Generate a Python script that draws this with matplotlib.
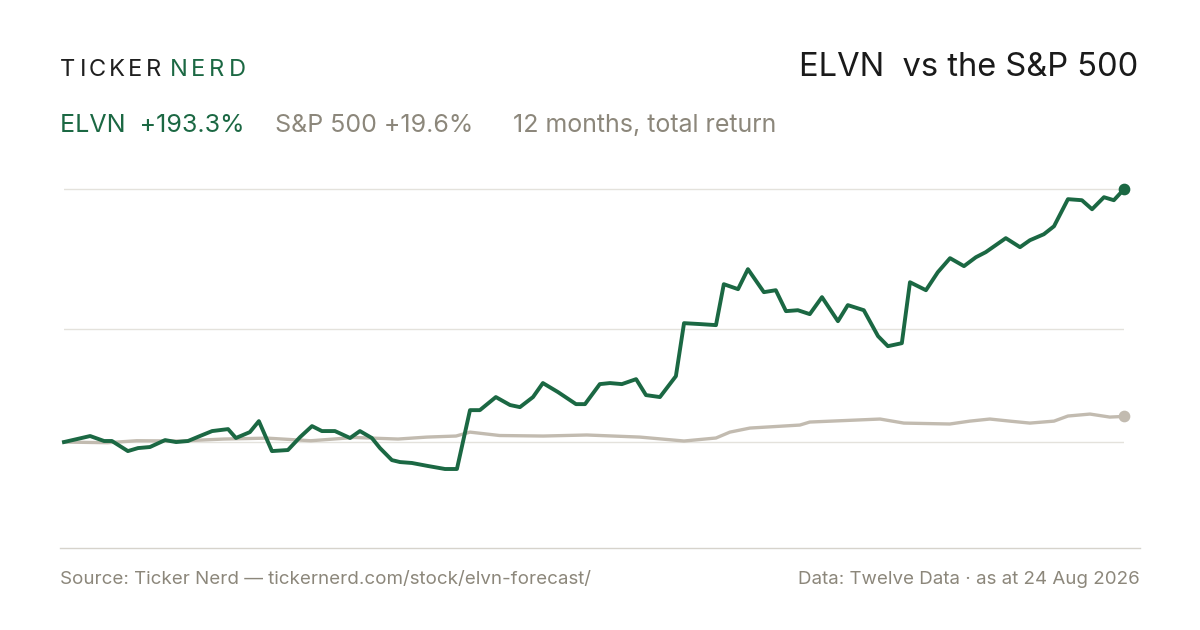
import matplotlib
matplotlib.use("Agg")
import matplotlib.pyplot as plt

plt.rcParams["font.family"] = ["Inter", "DejaVu Sans"]

GREEN = "#1b6843"
GREY = "#c2bbb0"
TEXT_GREY = "#8c877b"

# days since start, total return in %
elvn_days = [0, 9.0, 13.8, 16.5, 22.0, 25.5, 29.6, 34.8, 38.6, 42.7, 46.8, 51.0, 56.5, 59.2, 64.0,
             67.1, 71.6, 77.1, 81.3, 85.4, 88.8, 93.3, 98.5, 101.9, 106.0, 108.8, 112.9, 115.7,
             119.8, 125.3, 131.2, 135.3, 139.8, 143.2, 148.7, 153.6, 157.0, 161.5, 164.9, 170.1,
             176.3, 179.4, 184.5, 188.0, 192.1, 197.0, 200.4, 205.2, 210.7, 213.5, 219.0, 224.5,
             227.2, 232.1, 235.5, 241.0, 245.1, 248.6, 252.7, 256.8, 261.0, 266.5, 269.9, 275.4,
             280.3, 283.7, 288.5, 291.3, 296.8, 300.9, 305.1, 309.9, 314.0, 317.4, 324.3, 329.2,
             332.6, 337.4, 340.9, 345.7, 350.5, 354.0, 358.1, 361.5, 365.0]
elvn_ret = [0, 4.6, 0.8, 0.8, -6.9, -4.6, -3.8, 1.5, 0, 0.8, 4.6, 8.4, 9.9, 3.1, 7.6,
            16.0, -6.9, -6.1, 3.8, 12.2, 8.4, 8.4, 3.1, 8.4, 3.1, -4.6, -13.8, -15.3,
            -16.0, -18.3, -20.6, -20.6, 24.4, 24.4, 34.4, 28.3, 26.7, 34.4, 45.1, 38.2,
            29.0, 29.0, 44.3, 45.1, 44.3, 48.1, 35.9, 34.4, 50.4, 90.9, 90.2, 89.4,
            120.7, 116.9, 132.2, 114.6, 116.1, 100.1, 100.8, 97.8, 110.8, 92.4, 104.7, 100.8,
            81.0, 73.3, 75.6, 122.2, 116.1, 129.9, 140.6, 134.5, 141.3, 145.2, 155.9, 149.0,
            154.3, 158.9, 165.0, 185.7, 184.9, 178.0, 187.2, 184.9, 193.3]

spx_days = [0, 15, 25, 40, 55, 70, 85, 100, 115, 125, 135, 139.8, 150, 165, 180, 198.3, 213.5,
            224.5, 229.3, 236.2, 253.4, 256.8, 281.0, 289.2, 305.0, 311.9, 318.8, 325.7, 332.6,
            340.9, 345.7, 353.3, 360.1, 365.0]
spx_ret = [0, -0.5, 1.0, 0.8, 2.3, 3.0, 1.0, 3.5, 2.3, 3.8, 4.6, 7.6, 5.0, 4.6, 5.4, 3.8, 0.8,
           3.1, 7.6, 10.7, 13.0, 15.3, 17.6, 14.5, 13.8, 16.0, 17.6, 16.0, 14.5,
           16.0, 19.9, 21.4, 19.1, 19.6]

grid_vals = [0, 86.3, 193.3]

fig = plt.figure(figsize=(12, 6.3), dpi=100)
fig.patch.set_facecolor("white")
ax = fig.add_axes([64 / 1200, 82 / 630, 1060 / 1200, 378 / 630])
ax.set_xlim(0, 365)
ax.set_ylim(-81, 208)
for g in grid_vals:
    ax.axhline(g, color="#e4e2dc", lw=1, zorder=0)
ax.plot(spx_days, spx_ret, color=GREY, lw=2.4, solid_joinstyle="round", zorder=2, clip_on=False)
ax.plot(elvn_days, elvn_ret, color=GREEN, lw=2.8, solid_joinstyle="round", zorder=3, clip_on=False)
ax.scatter([spx_days[-1]], [spx_ret[-1]], s=55, color=GREY, zorder=4, clip_on=False)
ax.scatter([elvn_days[-1]], [elvn_ret[-1]], s=55, color=GREEN, zorder=5, clip_on=False)
for s in ax.spines.values():
    s.set_visible(False)
ax.set_xticks([])
ax.set_yticks([])
ax.patch.set_alpha(0)

# bottom rule
fig.add_artist(plt.Line2D([60 / 1200, 1140 / 1200], [82 / 630, 82 / 630], color="#d6d3cc", lw=1))

# letter-spaced wordmark
brand = [("T", 60), ("I", 80), ("C", 89), ("K", 109), ("E", 128), ("R", 146),
         ("N", 170), ("E", 191), ("R", 209), ("D", 229)]
for i, (ch, x) in enumerate(brand):
    fig.text(x / 1200, 1 - 70 / 630, ch, fontsize=17, color="#1f1f1f" if i < 6 else GREEN,
             va="center", ha="left")
fig.text(1138 / 1200, 1 - 68 / 630, "ELVN  vs the S&P 500", fontsize=23.5, color="#1a1a1a",
         va="center", ha="right")

fig.text(60 / 1200, 1 - 125 / 630, "ELVN  +193.3%", fontsize=18, color=GREEN, va="center")
fig.text(275 / 1200, 1 - 125 / 630, "S&P 500 +19.6%", fontsize=18, color=TEXT_GREY, va="center")
fig.text(513 / 1200, 1 - 125 / 630, "12 months, total return", fontsize=18, color=TEXT_GREY, va="center")

fig.text(60 / 1200, 1 - 580 / 630, "Source: Ticker Nerd — tickernerd.com/stock/elvn-forecast/",
         fontsize=13.5, color=TEXT_GREY, va="center")
fig.text(1140 / 1200, 1 - 580 / 630, "Data: Twelve Data · as at 24 Aug 2026",
         fontsize=13.5, color=TEXT_GREY, va="center", ha="right")

fig.savefig("out.png", dpi=100)
